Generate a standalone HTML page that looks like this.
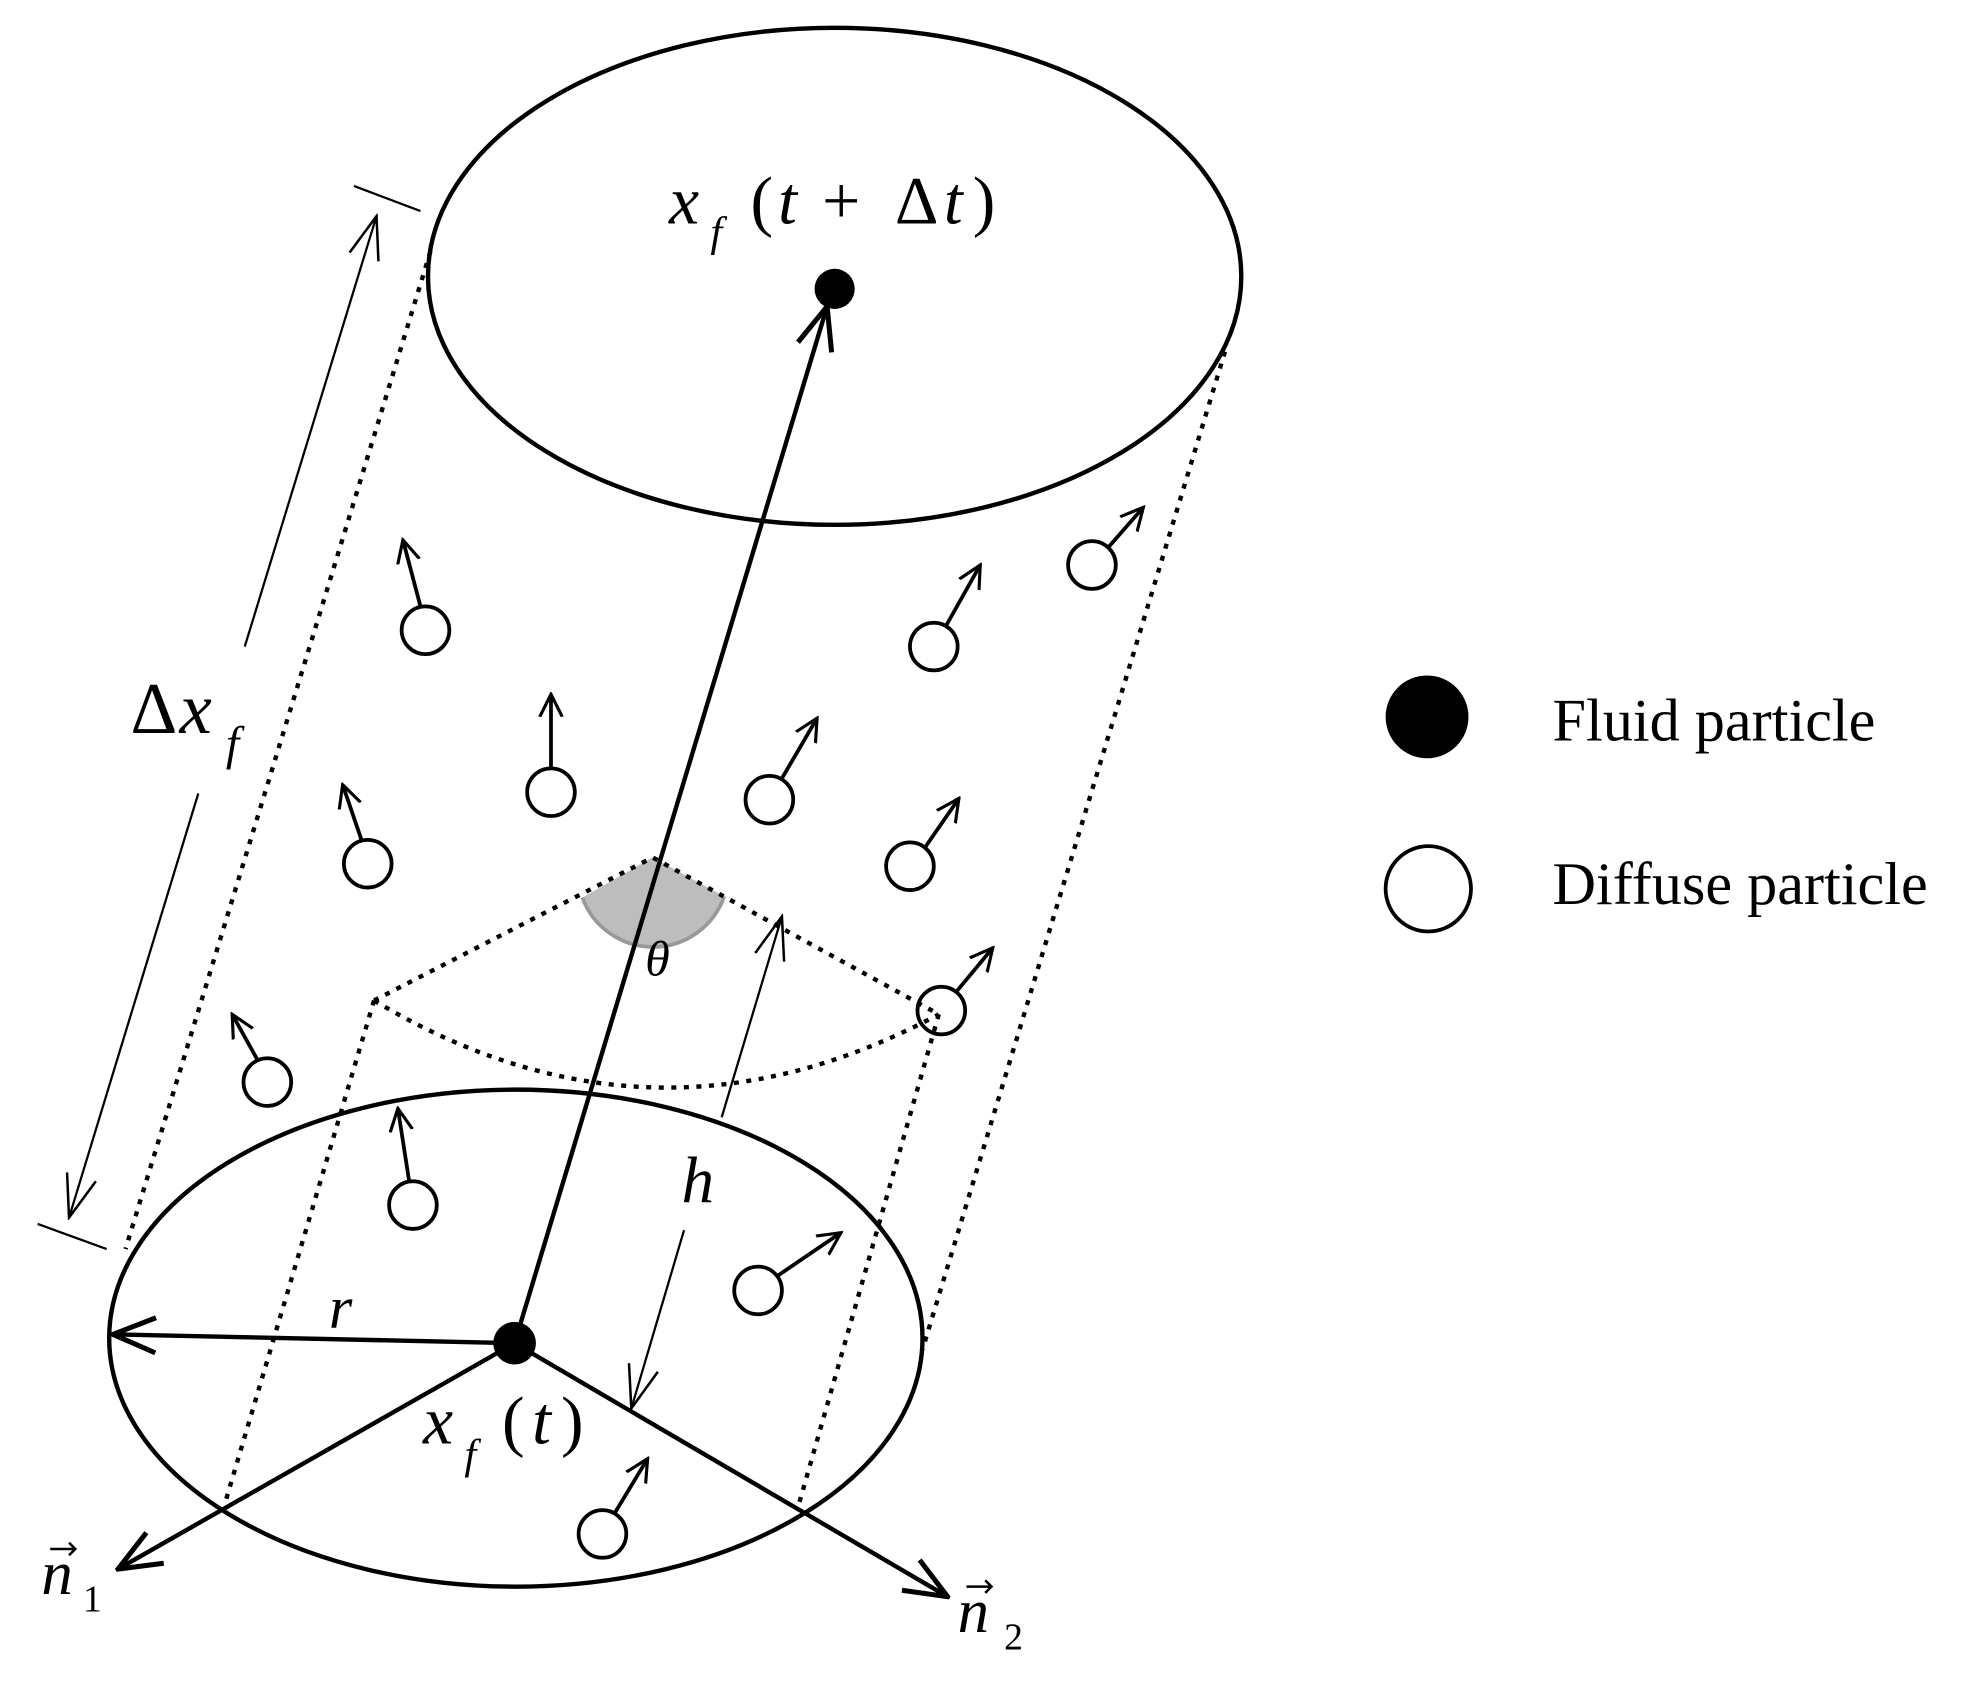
<!DOCTYPE html>
<html><head><style>html,body{margin:0;padding:0;background:#fff}svg{display:block}</style></head><body>
<svg width="1968" height="1686" viewBox="0 0 1568 1343" xmlns="http://www.w3.org/2000/svg" style="font-family:'Liberation Serif','DejaVu Serif',serif">
<style>text{font-family:'Liberation Serif','DejaVu Serif',serif}</style>
<defs>
<marker id="a" viewBox="0 0 20 20" refX="18" refY="10" markerWidth="20" markerHeight="20" markerUnits="userSpaceOnUse" orient="auto-start-reverse"><path d="M0,1 L18,10 L0,19" fill="none" stroke="#000" stroke-width="2.5"/></marker>
<marker id="b" viewBox="0 0 40 40" refX="38" refY="20" markerWidth="40" markerHeight="40" markerUnits="userSpaceOnUse" orient="auto-start-reverse"><path d="M4,6 L38,20 L4,34" fill="none" stroke="#000" stroke-width="4"/></marker>
<marker id="t" viewBox="0 0 40 40" refX="38" refY="20" markerWidth="40" markerHeight="40" markerUnits="userSpaceOnUse" orient="auto-start-reverse"><path d="M4,8 L38,20 L4,32" fill="none" stroke="#000" stroke-width="2"/></marker>
</defs>
<g fill="none" stroke="#000">
<ellipse cx="665" cy="220" rx="324" ry="198" stroke-width="3.5"/>
<ellipse cx="411" cy="1066" rx="324" ry="198" stroke-width="3.5"/>
<g stroke-width="3.5" stroke-dasharray="4 6">
<line x1="343" y1="200" x2="100" y2="995"/>
<line x1="976" y1="280" x2="735" y2="1075"/>
<line x1="298" y1="797" x2="180" y2="1195"/>
<line x1="748" y1="808" x2="636" y2="1200"/>
<path d="M298,797 Q520,930 748,808"/>
</g>
<path d="M464,715 L520,683 L577,714 A60,60 0 0 1 464,715 Z" fill="#bdbdbd" stroke="none"/>
<path d="M464,715 A60,60 0 0 0 577,714" stroke="#999" stroke-width="3"/>
<path d="M298,797 L520,683 L748,808" stroke-width="3.5" stroke-dasharray="4 6"/>
<line x1="410" y1="1070" x2="659" y2="244" stroke-width="3.5" marker-end="url(#b)"/>
<line x1="410" y1="1070" x2="90" y2="1063" stroke-width="3.5" marker-end="url(#b)"/>
<line x1="410" y1="1070" x2="94" y2="1250" stroke-width="3.5" marker-end="url(#b)"/>
<line x1="410" y1="1070" x2="755" y2="1272" stroke-width="3.5" marker-end="url(#b)"/>
<line x1="195" y1="515" x2="300" y2="172" stroke-width="1.8" marker-end="url(#t)"/>
<line x1="158" y1="632" x2="55" y2="970" stroke-width="1.8" marker-end="url(#t)"/>
<line x1="282" y1="148" x2="335" y2="168" stroke-width="1.8"/>
<line x1="30" y1="975" x2="85" y2="995" stroke-width="1.8"/>
<line x1="575" y1="890" x2="623" y2="730" stroke-width="1.8" marker-end="url(#t)"/>
<line x1="545" y1="980" x2="503" y2="1122" stroke-width="1.8" marker-end="url(#t)"/>
<g stroke-width="3">
<circle cx="339" cy="502" r="19"/><line x1="335" y1="483" x2="321" y2="430" marker-end="url(#a)"/>
<circle cx="439" cy="631" r="19"/><line x1="439" y1="612" x2="439" y2="553" marker-end="url(#a)"/>
<circle cx="293" cy="688" r="19"/><line x1="288" y1="669" x2="273" y2="625" marker-end="url(#a)"/>
<circle cx="213" cy="862" r="19"/><line x1="205" y1="844" x2="185" y2="808" marker-end="url(#a)"/>
<circle cx="329" cy="960" r="19"/><line x1="326" y1="941" x2="317" y2="883" marker-end="url(#a)"/>
<circle cx="744" cy="515" r="19"/><line x1="754" y1="498" x2="781" y2="450" marker-end="url(#a)"/>
<circle cx="870" cy="450" r="19"/><line x1="883" y1="436" x2="911" y2="404" marker-end="url(#a)"/>
<circle cx="613" cy="637" r="19"/><line x1="623" y1="620" x2="651" y2="572" marker-end="url(#a)"/>
<circle cx="725" cy="690" r="19"/><line x1="737" y1="675" x2="764" y2="636" marker-end="url(#a)"/>
<circle cx="750" cy="805" r="19"/><line x1="762" y1="790" x2="791" y2="755" marker-end="url(#a)"/>
<circle cx="604" cy="1028" r="19"/><line x1="620" y1="1016" x2="670" y2="982" marker-end="url(#a)"/>
<circle cx="480" cy="1222" r="19"/><line x1="490" y1="1205" x2="516" y2="1162" marker-end="url(#a)"/>
<circle cx="1138" cy="708" r="34"/>
</g>
</g>
<circle cx="665" cy="230" r="16" fill="#000"/>
<circle cx="410" cy="1070" r="17" fill="#000"/>
<circle cx="1137" cy="571" r="33" fill="#000"/>
<g fill="#000">
<text x="533" y="178" font-size="54" font-style="italic">x</text>
<text x="566" y="196" font-size="34" font-style="italic">f</text>
<text x="598" y="178" font-size="54">(</text>
<text x="620" y="178" font-size="54" font-style="italic">t</text>
<text x="655" y="178" font-size="54">+</text>
<text x="713" y="178" font-size="54">Δ</text>
<text x="752" y="178" font-size="54" font-style="italic">t</text>
<text x="775" y="178" font-size="54">)</text>
<text x="104" y="584" font-size="58">Δ</text>
<text x="143" y="584" font-size="58" font-style="italic">x</text>
<text x="180" y="605" font-size="38" font-style="italic">f</text>
<text x="514" y="777" font-size="40" font-style="italic">θ</text>
<text x="543" y="958" font-size="52" font-style="italic">h</text>
<text x="262" y="1058" font-size="48" font-style="italic">r</text>
<text x="337" y="1150" font-size="54" font-style="italic">x</text>
<text x="370" y="1170" font-size="34" font-style="italic">f</text>
<text x="400" y="1150" font-size="54">(</text>
<text x="424" y="1150" font-size="54" font-style="italic">t</text>
<text x="447" y="1150" font-size="54">)</text>
<text x="33" y="1270" font-size="50" font-style="italic">n</text>
<text x="66" y="1284" font-size="30">1</text>
<text x="763" y="1300" font-size="50" font-style="italic">n</text>
<text x="800" y="1314" font-size="30">2</text>
<text x="1237" y="590" font-size="48">Fluid particle</text>
<text x="1237" y="720" font-size="48">Diffuse particle</text>
</g>
<g fill="none" stroke="#000" stroke-width="2">
<path d="M40,1234 L60,1234 M55,1229 L60,1234 L55,1239"/>
<path d="M770,1264 L790,1264 M785,1259 L790,1264 L785,1269"/>
</g>
</svg>
</body></html>
